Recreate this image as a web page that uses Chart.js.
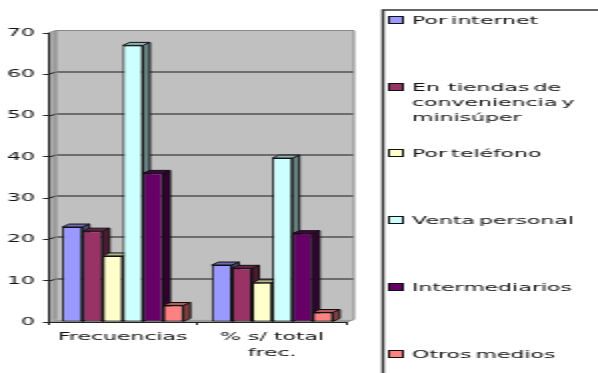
<!DOCTYPE html>
<html>
<head>
<meta charset="utf-8">
<script src="https://cdn.jsdelivr.net/npm/chart.js@4"></script>
<style>
html,body{margin:0;padding:0;background:#fff;width:598px;height:373px;overflow:hidden}
#wrap{position:absolute;left:0;top:0;width:299px;height:373px;transform:scaleX(2);transform-origin:0 0;filter:blur(0.35px)}
canvas{display:block}
</style>
</head>
<body>
<div id="wrap"><canvas id="c" width="299" height="373"></canvas></div>
<script>
const categories = ["Frecuencias", ["% s/ total", "frec."]];
const seriesNames = ["Por internet", "En tiendas de convenciencia y minisúper", "Por teléfono", "Venta personal", "Intermediarios", "Otros medios"];
const legendLines = [["Por internet"], ["En  tiendas de", "conveniencia y", "minisúper"], ["Por teléfono"], ["Venta personal"], ["Intermediarios"], ["Otros medios"]];
const porInternet = [23, 13.8];
const enTiendas = [22, 13];
const porTelefono = [16, 9.5];
const ventaPersonal = [67, 39.7];
const intermediarios = [36, 21.4];
const otrosMedios = [4, 2.3];
const seriesValues = [porInternet, enTiendas, porTelefono, ventaPersonal, intermediarios, otrosMedios];
const faceColors = ["#9999FF", "#993366", "#FFFFCC", "#CCFFFF", "#660066", "#FF8080"];
const topColors = ["#6B6BB3", "#6B2447", "#B3B38F", "#8FB3B3", "#470047", "#B35A5A"];
const sideColors = ["#4D4D80", "#4D1933", "#808066", "#668080", "#330033", "#804040"];
const yTicks = [0, 10, 20, 30, 40, 50, 60, 70];

const FONT = "DejaVu Sans";
const TEXT = "#111111";
const DX = 3.5, DY = 3;   // 3D depth in canvas units

const walls = {
  id: "walls",
  beforeDraw(chart) {
    const c = chart.ctx, a = chart.chartArea, y = chart.scales.y;
    c.save();
    c.fillStyle = "#fff"; c.fillRect(0, 0, chart.width, chart.height);
    const bx0 = a.left + 4, bx1 = a.right + 3.5, dy = 2.5;
    c.fillStyle = "#C0C0C0";
    c.fillRect(bx0, a.top - dy, bx1 - bx0, a.bottom - a.top);
    c.fillStyle = "#A6A6A6";
    c.beginPath();
    c.moveTo(a.left, a.top); c.lineTo(bx0, a.top - dy); c.lineTo(bx0, a.bottom - dy); c.lineTo(a.left, a.bottom);
    c.closePath(); c.fill();
    c.fillStyle = "#9A9A9A";
    c.beginPath();
    c.moveTo(a.left, a.bottom); c.lineTo(bx0, a.bottom - dy); c.lineTo(bx1, a.bottom - dy); c.lineTo(a.right, a.bottom);
    c.closePath(); c.fill();
    c.strokeStyle = "#1a1a1a"; c.lineWidth = 1;
    yTicks.forEach(v => {
      if (v === 0 || v === 70) return;
      const p = Math.round(y.getPixelForValue(v)) + 0.5;
      c.beginPath(); c.moveTo(a.left, p); c.lineTo(bx0, p - dy); c.lineTo(bx1, p - dy); c.stroke();
    });
    c.strokeStyle = "#8a8a8a"; c.lineWidth = 1;
    c.beginPath();
    c.moveTo(a.left, a.top); c.lineTo(bx0, a.top - dy); c.lineTo(bx1, a.top - dy);
    c.lineTo(bx1, a.bottom - dy); c.lineTo(a.right, a.bottom);
    c.moveTo(bx0, a.top - dy); c.lineTo(bx0, a.bottom - dy);
    c.stroke();
    c.restore();
  }
};

const depth = {
  id: "depth",
  beforeDatasetsDraw(chart) {
    const c = chart.ctx;
    seriesValues.forEach((_, i) => {
      const meta = chart.getDatasetMeta(i);
      c.save();
      c.lineWidth = 1; c.strokeStyle = "#111";
      meta.data.forEach(b => {
        const p = b.getProps(["x", "y", "base", "width"], true);
        const l = p.x - p.width / 2, r = p.x + p.width / 2;
        c.fillStyle = sideColors[i];
        c.beginPath();
        c.moveTo(r, p.y); c.lineTo(r + DX, p.y - DY); c.lineTo(r + DX, p.base - DY); c.lineTo(r, p.base);
        c.closePath(); c.fill(); c.stroke();
        c.fillStyle = topColors[i];
        c.beginPath();
        c.moveTo(l, p.y); c.lineTo(l + DX, p.y - DY); c.lineTo(r + DX, p.y - DY); c.lineTo(r, p.y);
        c.closePath(); c.fill(); c.stroke();
        b.draw(c);
      });
      c.restore();
    });
  },
  beforeDatasetDraw() { return false; }
};

const boxLegend = {
  id: "boxLegend",
  afterDraw(chart) {
    const c = chart.ctx;
    const centers = [20, 87, 153, 220, 287, 354];
    c.save();
    c.strokeStyle = "#333"; c.lineWidth = 1.5;
    c.beginPath(); c.moveTo(299, 10); c.lineTo(191.5, 10); c.lineTo(191.5, 373); c.stroke();
    c.font = "11px '" + FONT + "'";
    c.wordSpacing = "-1.4px";
    c.textBaseline = "middle"; c.textAlign = "left";
    legendLines.forEach((lines, i) => {
      c.fillStyle = faceColors[i]; c.strokeStyle = "#111"; c.lineWidth = 1;
      c.fillRect(194.5, centers[i] - 3.5, 7, 7);
      c.strokeRect(194.5, centers[i] - 3.5, 7, 7);
      c.fillStyle = TEXT;
      lines.forEach((t, j) => c.fillText(t, 206, centers[i] + 1 + j * 15.2));
    });
    c.restore();
  }
};

new Chart(document.getElementById("c"), {
  type: "bar",
  data: {
    labels: categories,
    datasets: seriesValues.map((vals, i) => ({
      label: seriesNames[i],
      data: vals,
      backgroundColor: faceColors[i],
      borderColor: "#111",
      borderWidth: 1,
      borderSkipped: false,
      categoryPercentage: 0.81,
      barPercentage: 1
    }))
  },
  options: {
    responsive: false,
    devicePixelRatio: 1,
    animation: false,
    layout: { padding: { left: 0, top: 33, right: 125.5, bottom: 0 } },
    plugins: { legend: { display: false }, tooltip: { enabled: false } },
    scales: {
      x: {
        afterFit(s) { s.height = 51; },
        grid: { drawOnChartArea: false, drawTicks: true, tickLength: 3, color: "#222" },
        border: { color: "#222", width: 1 },
        ticks: { maxRotation: 0, autoSkip: false, color: TEXT, padding: 4,
                 font: { family: FONT, size: 11, lineHeight: 1.45 } }
      },
      y: {
        min: 0, max: 70,
        afterFit(s) { s.width = 24; },
        afterBuildTicks(s) { s.ticks = yTicks.map(v => ({ value: v })); },
        grid: { drawOnChartArea: false, drawTicks: true, tickLength: 2.5, color: "#222" },
        border: { color: "#222", width: 1 },
        ticks: { color: TEXT, padding: 4, font: { family: FONT, size: 11 } }
      }
    }
  },
  plugins: [walls, depth, boxLegend]
});
</script>
</body>
</html>
